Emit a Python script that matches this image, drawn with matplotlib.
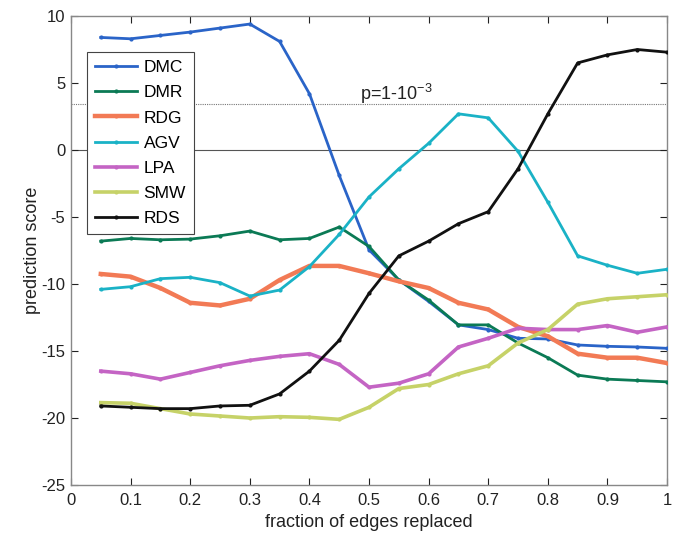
import matplotlib
matplotlib.use("Agg")
import matplotlib.pyplot as plt
import numpy as np

plt.rcParams['font.family'] = ['Liberation Sans', 'DejaVu Sans']
plt.rcParams['axes.unicode_minus'] = False

x = [0.05, 0.10, 0.15, 0.20, 0.25, 0.30, 0.35, 0.40, 0.45, 0.50,
     0.55, 0.60, 0.65, 0.70, 0.75, 0.80, 0.85, 0.90, 0.95, 1.00]

DMC = [8.4, 8.3, 8.55, 8.8, 9.1, 9.4, 8.1, 4.2, -1.9, -7.45,
       -9.7, -11.3, -13.05, -13.4, -14.05, -14.1, -14.55, -14.65, -14.7, -14.8]
DMR = [-6.8, -6.6, -6.7, -6.65, -6.4, -6.05, -6.7, -6.6, -5.75, -7.2,
       -9.7, -11.2, -13.05, -13.05, -14.4, -15.5, -16.8, -17.1, -17.2, -17.3]
RDG = [-9.25, -9.45, -10.3, -11.4, -11.6, -11.1, -9.7, -8.65, -8.65, -9.2,
       -9.8, -10.3, -11.4, -11.9, -13.2, -13.9, -15.2, -15.5, -15.5, -15.9]
AGV = [-10.4, -10.2, -9.6, -9.5, -9.9, -10.9, -10.45, -8.7, -6.3, -3.5,
       -1.4, 0.5, 2.7, 2.4, -0.1, -3.9, -7.9, -8.6, -9.2, -8.9]
LPA = [-16.5, -16.7, -17.1, -16.6, -16.1, -15.7, -15.4, -15.2, -16.0, -17.7,
       -17.4, -16.7, -14.7, -14.05, -13.3, -13.4, -13.4, -13.1, -13.6, -13.2]
SMW = [-18.85, -18.9, -19.3, -19.7, -19.85, -20.0, -19.9, -19.95, -20.1, -19.2,
       -17.8, -17.5, -16.7, -16.1, -14.4, -13.4, -11.5, -11.1, -10.95, -10.8]
RDS = [-19.1, -19.2, -19.3, -19.3, -19.1, -19.05, -18.2, -16.5, -14.2, -10.7,
       -7.9, -6.8, -5.5, -4.6, -1.4, 2.7, 6.5, 7.1, 7.5, 7.3]

p_threshold = 3.45
p_label = r'p=1-10$^{\mathregular{-3}}$'

series = [("DMC", DMC, "#2a64c8", 2.0),
          ("DMR", DMR, "#0b7a55", 2.0),
          ("RDG", RDG, "#f27a55", 3.2),
          ("AGV", AGV, "#1ab2c6", 2.0),
          ("LPA", LPA, "#c464c4", 2.6),
          ("SMW", SMW, "#c6d268", 2.6),
          ("RDS", RDS, "#111111", 2.0)]

fig = plt.figure(figsize=(6.8, 5.37), dpi=100)
ax = fig.add_axes([0.1044, 0.0968, 0.8766, 0.8734])

ax.axhline(0, color="#555555", lw=0.8, zorder=1)
ax.axhline(p_threshold, color="#777777", lw=0.8, ls=(0, (1, 1)), zorder=1)

for name, vals, col, lw in series:
    ax.plot(x, vals, color=col, lw=lw, marker='.', ms=4, label=name, zorder=3)

ax.text(0.485, 3.75, p_label, fontsize=13, color="#222222")

ax.set_xlim(0, 1)
ax.set_ylim(-25, 10)
ax.set_xticks(np.arange(0, 1.01, 0.1))
ax.set_xticklabels(["0", "0.1", "0.2", "0.3", "0.4", "0.5", "0.6", "0.7", "0.8", "0.9", "1"])
ax.set_yticks(np.arange(-25, 11, 5))
ax.tick_params(direction='in', top=True, right=True, labelsize=12, colors="#222222",
               length=5, width=0.8)
ax.tick_params(axis='x', pad=6)
ax.tick_params(axis='y', pad=4)
for tl in ax.get_xticklabels() + ax.get_yticklabels():
    tl.set_color("#222222")
for sp in ax.spines.values():
    sp.set_color("#888888")
    sp.set_linewidth(1.0)
ax.set_xlabel("fraction of edges replaced", fontsize=13, color="#222222", labelpad=4)
ax.set_ylabel("prediction score", fontsize=13, color="#222222", labelpad=0)

leg = ax.legend(loc='upper left', bbox_to_anchor=(0.027, 0.923), fontsize=12.5,
                frameon=True, fancybox=False, edgecolor="#444444", framealpha=1,
                handlelength=2.4, labelspacing=0.58, borderpad=0.45, handletextpad=0.4,
                borderaxespad=0)
leg.get_frame().set_linewidth(0.8)
leg.set_zorder(5)

fig.savefig("out.png", dpi=100)
